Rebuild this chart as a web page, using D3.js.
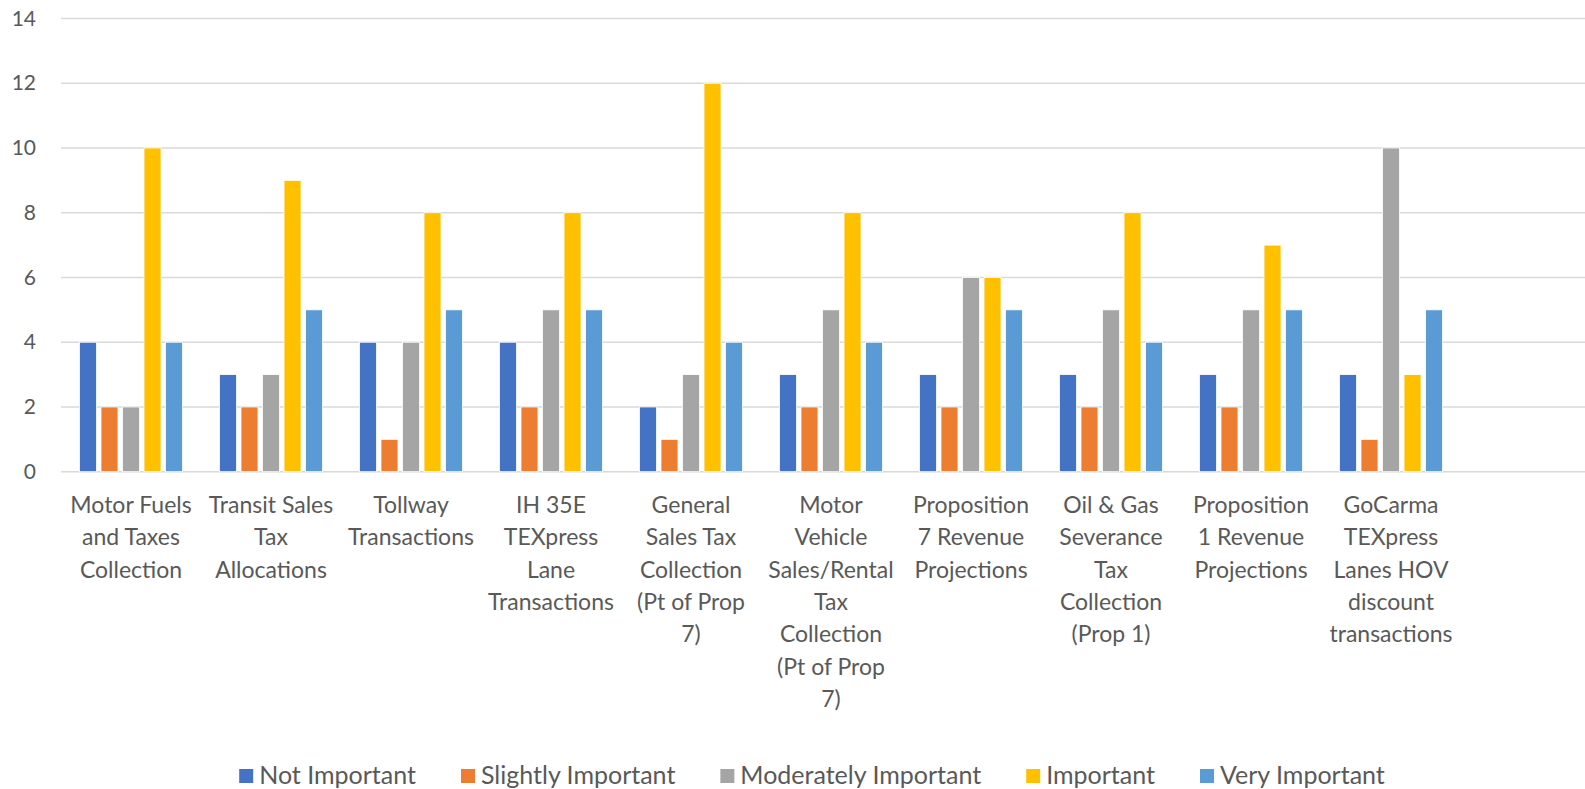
<!DOCTYPE html>
<html>
<head>
<meta charset="utf-8">
<script src="https://cdn.jsdelivr.net/npm/d3@7"></script>
<style>
  html, body { margin: 0; padding: 0; background: #fff; }
  svg { display: block; }
</style>
</head>
<body>
<svg id="chart"></svg>
<script>
// categories, one label line per entry
const categories = [
  ["Motor Fuels", "and Taxes", "Collection"],
  ["Transit Sales", "Tax", "Allocations"],
  ["Tollway", "Transactions"],
  ["IH 35E", "TEXpress", "Lane", "Transactions"],
  ["General", "Sales Tax", "Collection", "(Pt of Prop", "7)"],
  ["Motor", "Vehicle", "Sales/Rental", "Tax", "Collection", "(Pt of Prop", "7)"],
  ["Proposition", "7 Revenue", "Projections"],
  ["Oil & Gas", "Severance", "Tax", "Collection", "(Prop 1)"],
  ["Proposition", "1 Revenue", "Projections"],
  ["GoCarma", "TEXpress", "Lanes HOV", "discount", "transactions"]
]
const seriesNames = ["Not Important", "Slightly Important", "Moderately Important", "Important", "Very Important"]
const seriesColors = ["#4472C4", "#ED7D31", "#A5A5A5", "#FFC000", "#5B9BD5"]

const notImportant      = [4, 3, 4, 4, 2, 3, 3, 3, 3, 3]
const slightlyImportant = [2, 2, 1, 2, 1, 2, 2, 2, 2, 1]
const moderately        = [2, 3, 4, 5, 3, 5, 6, 5, 5, 10]
const important         = [10, 9, 8, 8, 12, 8, 6, 8, 7, 3]
const veryImportant     = [4, 5, 5, 5, 4, 4, 5, 4, 5, 5]
const yTicks = [0, 2, 4, 6, 8, 10, 12, 14]

const series = [notImportant, slightlyImportant, moderately, important, veryImportant]

const W = 1585, H = 789
const svg = d3.select("#chart").attr("width", W).attr("height", H)
const font = "Lato, 'Open Sans', sans-serif"
const textColor = "#595959"

const catKeys = categories.map(c => c.join(" "))
const x0 = d3.scaleBand().domain(catKeys).range([61, 1461]).paddingInner(0.264).paddingOuter(0.132)
const x1 = d3.scaleBand().domain(seriesNames).range([0, x0.bandwidth()]).paddingInner(0.21)
const y = d3.scaleLinear().domain([0, 14]).range([471.7, 18.5])

// gridlines
svg.append("g").selectAll("line").data(yTicks).enter().append("line")
  .attr("x1", 61).attr("x2", W)
  .attr("y1", d => y(d)).attr("y2", d => y(d))
  .attr("stroke", "#D9D9D9").attr("stroke-width", 1.5)

// y axis labels
const yAxis = d3.axisLeft(y).tickValues(yTicks).tickSize(0).tickPadding(0)
svg.append("g").attr("transform", "translate(36,0)").call(yAxis)
  .call(g => g.select(".domain").remove())
  .selectAll("text")
  .style("font-family", font).style("font-size", "21px").attr("fill", textColor)

// bars
const groups = svg.append("g").selectAll("g").data(catKeys).enter().append("g")
  .attr("transform", d => "translate(" + x0(d) + ",0)")
groups.selectAll("rect")
  .data((d, i) => series.map((s, j) => ({name: seriesNames[j], value: s[i], color: seriesColors[j]})))
  .enter().append("rect")
  .attr("x", d => x1(d.name))
  .attr("width", x1.bandwidth())
  .attr("y", d => y(d.value))
  .attr("height", d => y(0) - y(d.value))
  .attr("fill", d => d.color)
  .attr("stroke", "#fff").attr("stroke-width", 0.8)

// category labels
const labels = svg.append("g").selectAll("text").data(categories).enter().append("text")
  .attr("x", (d, i) => x0(catKeys[i]) + x0.bandwidth() / 2)
  .attr("y", 513)
  .attr("text-anchor", "middle")
  .style("font-family", font).style("font-size", "23px").attr("fill", textColor)
labels.selectAll("tspan").data(d => d).enter().append("tspan")
  .attr("x", function() { return this.parentNode.getAttribute("x") })
  .attr("dy", (d, i) => i === 0 ? 0 : 32.3)
  .text(d => d)

// legend
const legend = svg.append("g")
let lx = 0
seriesNames.forEach((name, i) => {
  const item = legend.append("g").attr("transform", "translate(" + lx + ",0)")
  item.append("rect").attr("x", 0).attr("y", -15).attr("width", 14).attr("height", 14).attr("fill", seriesColors[i])
  const t = item.append("text").attr("x", 20).attr("y", 0)
    .style("font-family", font).style("font-size", "25px").attr("fill", textColor).text(name)
  lx += 20 + t.node().getComputedTextLength() + 45
})
const legendWidth = lx - 45
legend.attr("transform", "translate(" + (812 - legendWidth / 2) + ",784)")
</script>
</body>
</html>
